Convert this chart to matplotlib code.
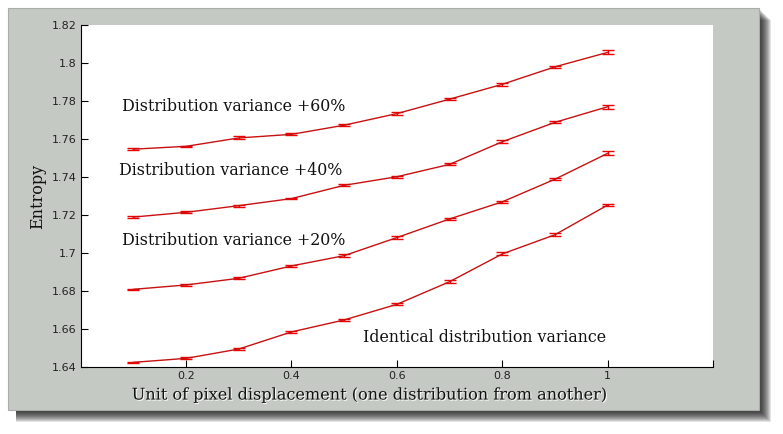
import matplotlib
matplotlib.use("Agg")
import matplotlib.pyplot as plt
import matplotlib.patheffects as pe
from matplotlib.patches import Rectangle

# displacement values (x) shared by all four curves
displacement = [0.1, 0.2, 0.3, 0.4, 0.5, 0.6, 0.7, 0.8, 0.9, 1.0]

entropy_60 = [1.7547, 1.7562, 1.7606, 1.7625, 1.7673, 1.7734, 1.7810, 1.7888, 1.7980, 1.8056]
entropy_40 = [1.7190, 1.7215, 1.7250, 1.7287, 1.7357, 1.7402, 1.7467, 1.7586, 1.7688, 1.7770]
entropy_20 = [1.6810, 1.6833, 1.6868, 1.6933, 1.6987, 1.7082, 1.7180, 1.7270, 1.7389, 1.7525]
entropy_00 = [1.6426, 1.6447, 1.6496, 1.6586, 1.6649, 1.6731, 1.6850, 1.6996, 1.7097, 1.7253]

err_60 = [0.0004, 0.0004, 0.0008, 0.0005, 0.0005, 0.0006, 0.0005, 0.0007, 0.0006, 0.0010]
err_40 = [0.0006, 0.0005, 0.0006, 0.0004, 0.0005, 0.0004, 0.0005, 0.0007, 0.0005, 0.0010]
err_20 = [0.0004, 0.0006, 0.0005, 0.0006, 0.0007, 0.0006, 0.0007, 0.0007, 0.0006, 0.0010]
err_00 = [0.0004, 0.0005, 0.0006, 0.0005, 0.0005, 0.0005, 0.0008, 0.0008, 0.0008, 0.0007]

curve_labels = [
    "Distribution variance +60%",
    "Distribution variance +40%",
    "Distribution variance +20%",
    "Identical distribution variance",
]

x_ticks = [0.2, 0.4, 0.6, 0.8, 1.0, 1.2]
x_tick_labels = ["0.2", "0.4", "0.6", "0.8", "1", ""]
y_ticks = [1.64, 1.66, 1.68, 1.70, 1.72, 1.74, 1.76, 1.78, 1.80, 1.82]
y_tick_labels = ["1.64", "1.66", "1.68", "1.7", "1.72", "1.74", "1.76", "1.78", "1.8", "1.82"]

W, H = 783, 434
fig = plt.figure(figsize=(W / 100, H / 100), dpi=100)
fig.patch.set_facecolor("white")

# soft drop shadow behind the gray panel
px0, py0, px1, py1 = 8, 8, 759, 410
for i in range(12):
    grow = 12 - i
    fig.patches.append(Rectangle(
        ((px0 + 8) / W, 1 - (py1 + grow) / H),
        (px1 - px0 - 8 + grow) / W, (py1 - py0) / H,
        transform=fig.transFigure, facecolor="black", alpha=0.11,
        edgecolor="none", zorder=0))
fig.patches.append(Rectangle(
    (px0 / W, 1 - py1 / H), (px1 - px0) / W, (py1 - py0) / H,
    transform=fig.transFigure, facecolor="#c5c9c4", edgecolor="#a9aca8",
    linewidth=0.8, zorder=1))

ax = fig.add_axes([80.7 / W, 1 - 367.3 / H, (713 - 80.7) / W, (367.3 - 25) / H])
ax.set_zorder(2)
ax.set_facecolor("white")

series = [entropy_60, entropy_40, entropy_20, entropy_00]
errors = [err_60, err_40, err_20, err_00]
for ys, es in zip(series, errors):
    ax.errorbar(displacement, ys, yerr=es, color="#c81010", ecolor="#ee0000",
                linewidth=1.0, elinewidth=1.0, capsize=4.5, capthick=1.0)

ax.set_xlim(0, 1.2)
ax.set_ylim(1.64, 1.82)
ax.set_xticks(x_ticks)
ax.set_xticklabels(x_tick_labels)
ax.set_yticks(y_ticks)
ax.set_yticklabels(y_tick_labels)
ax.tick_params(direction="in", length=5, width=0.8, labelsize=8, pad=3,
               labelcolor="#222222")
for s in ["top", "right"]:
    ax.spines[s].set_visible(False)
for s in ["left", "bottom"]:
    ax.spines[s].set_linewidth(0.8)

serif = "DejaVu Serif"
label_pos = [(0.0775, 1.7774), (0.0735, 1.7437), (0.0775, 1.7065), (0.536, 1.6558)]
for (lx, ly), txt in zip(label_pos, curve_labels):
    ax.text(lx, ly, txt, family=serif, fontsize=11.4, color="#111111",
            va="center", ha="left")

ax.text(0.4575, -0.081, "Unit of pixel displacement (one distribution from another)",
        transform=ax.transAxes, family=serif, fontsize=11.6, color="#111111",
        ha="center", va="center",
        path_effects=[pe.withSimplePatchShadow(offset=(0.8, -0.8),
                                                shadow_rgbFace="white",
                                                alpha=0.9)])
ax.set_ylabel("Entropy", family=serif, fontsize=11.5, color="#111111", labelpad=4)

fig.savefig("out.png", dpi=100)
